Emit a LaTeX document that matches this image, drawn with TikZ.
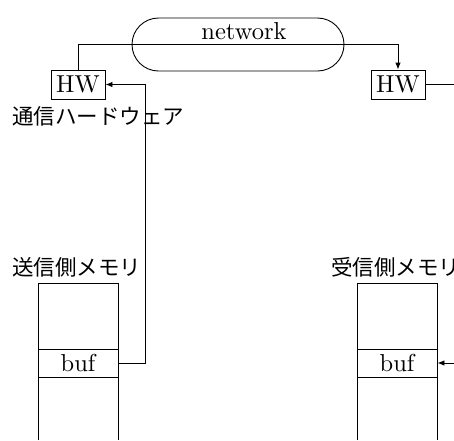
\documentclass[tikz,border=0pt]{standalone}
\usepackage{fontspec}
\newfontfamily\jp{Noto Sans CJK JP}
\newfontfamily\lmten{lmroman10-regular.otf}
\usetikzlibrary{arrows.meta}
\begin{document}
\begin{tikzpicture}[x=1pt,y=-1pt, line width=0.9pt,
  >={Latex[length=7pt,width=5.5pt]},
  lat/.style={font=\lmten\fontsize{24.5}{25}\selectfont},
  jlab/.style={font=\jp\fontsize{21.5}{22}\selectfont, anchor=west, inner sep=0pt},
  hwbox/.style={draw, minimum width=54pt, minimum height=29pt, inner sep=0pt, lat},
  bufbox/.style={draw, minimum width=80pt, minimum height=28pt, inner sep=0pt, lat},
  ]
\useasboundingbox (0,0) rectangle (454,440);
% network
\node[draw, rounded corners=26.5pt, minimum width=212pt, minimum height=53pt, inner sep=0pt] (net) at (238,44.5) {};
\node[lat, anchor=base, inner sep=0pt] (nettext) at (244,39) {network};
% hardware
\node[hwbox] (hwl) at (78,84.5) {HW};
\node[hwbox] (hwr) at (398,84.5) {HW};
\draw[->] (hwl.north) -- (hwl.north |- net.center) -- (hwr.north |- net.center) -- (hwr.north);
\coordinate (rend) at (454,84.5);
\draw (hwr.east) -- (rend);
% labels
\node[jlab] (lhw) at (12,116) {通信ハードウェア};
\node[jlab] (lsend) at (12,267) {送信側メモリ};
\node[jlab] (lrecv) at (331,267) {受信側メモリ};
% memories
\draw (38,440) -- (38,283) -- (118,283) -- (118,440);
\draw (357,440) -- (357,283) -- (437,283) -- (437,440);
\node[bufbox] (bufl) at (78,363) {buf};
\node[bufbox] (bufr) at (397,363) {buf};
% connectors
\coordinate (lc) at (145,84.5);
\draw[->] (bufl.east) -| (lc) -- (hwl.east);
\coordinate (rin) at (454,363);
\draw[->] (rin) -- (bufr.east);
\end{tikzpicture}
\end{document}
